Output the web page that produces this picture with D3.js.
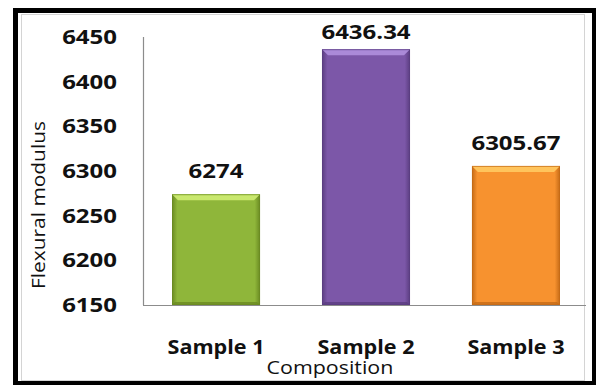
<!DOCTYPE html>
<html>
<head>
<meta charset="utf-8">
<script src="https://cdn.jsdelivr.net/npm/d3@7"></script>
<style>
  html, body { margin: 0; padding: 0; background: #fff; }
  svg { display: block; }
</style>
</head>
<body>
<svg id="chart" width="596" height="385"></svg>
<script>
// Flexural modulus per sample composition
const categories = ["Sample 1", "Sample 2", "Sample 3"];
const values = [6274, 6436.34, 6305.67];
const valueLabels = ["6274", "6436.34", "6305.67"];
const yTicks = [6150, 6200, 6250, 6300, 6350, 6400, 6450];

// fill palette per bar: body, light bevel, dark edge
const bodyColors = ["#8fb63a", "#7c57a8", "#f7922f"];
const lightColors = ["#c9e86e", "#ab8ad8", "#ffc45c"];
const edgeColors = ["#6a8a22", "#5a3d80", "#c46a16"];

const svg = d3.select("#chart");

const x = d3.scaleBand()
  .domain(categories)
  .range([141, 591])
  .paddingInner(0.413)
  .paddingOuter(0.2067);

const y = d3.scaleLinear()
  .domain([6150, 6450])
  .range([305, 37]);

// faint inner chart-area frame
svg.append("rect")
  .attr("x", 21.5).attr("y", 14.5)
  .attr("width", 563).attr("height", 366)
  .attr("fill", "none").attr("stroke", "#d4d4d4").attr("stroke-width", 1);

// outer black frame
const frame = svg.append("g").attr("fill", "#000");
frame.append("rect").attr("x", 13).attr("y", 8).attr("width", 583).attr("height", 5);
frame.append("rect").attr("x", 13).attr("y", 8).attr("width", 5).attr("height", 377);
frame.append("rect").attr("x", 592).attr("y", 8).attr("width", 4).attr("height", 377);
frame.append("rect").attr("x", 13).attr("y", 381).attr("width", 583).attr("height", 4);

// bars with a bevelled look
const defs = svg.append("defs");
const bars = svg.append("g").selectAll("g.bar")
  .data(values)
  .join("g")
  .attr("class", "bar");

bars.each(function(v, i) {
  const g = d3.select(this);
  const x0 = x(categories[i]);
  const bw = x.bandwidth();
  const top = y(v);
  const bottom = y(6150);
  const h = bottom - top;
  const bev = 6;

  const gid = "grad" + i;
  const grad = defs.append("linearGradient")
    .attr("id", gid).attr("x1", 0).attr("x2", 1).attr("y1", 0).attr("y2", 0);
  grad.append("stop").attr("offset", "0%").attr("stop-color", edgeColors[i]);
  grad.append("stop").attr("offset", "6%").attr("stop-color", bodyColors[i]);
  grad.append("stop").attr("offset", "94%").attr("stop-color", bodyColors[i]);
  grad.append("stop").attr("offset", "100%").attr("stop-color", edgeColors[i]);

  g.append("rect")
    .attr("x", x0).attr("y", top)
    .attr("width", bw).attr("height", h)
    .attr("fill", "url(#" + gid + ")");

  // top bevel
  g.append("path")
    .attr("d", `M${x0},${top} L${x0 + bw},${top} L${x0 + bw - bev},${top + bev} L${x0 + bev},${top + bev} Z`)
    .attr("fill", lightColors[i]);
  // bottom edge
  g.append("path")
    .attr("d", `M${x0},${bottom} L${x0 + bw},${bottom} L${x0 + bw - 3},${bottom - 3} L${x0 + 3},${bottom - 3} Z`)
    .attr("fill", edgeColors[i]).attr("opacity", 0.8);
  // outline
  g.append("rect")
    .attr("x", x0 + 0.5).attr("y", top + 0.5)
    .attr("width", bw - 1).attr("height", h - 1)
    .attr("fill", "none").attr("stroke", edgeColors[i]).attr("stroke-opacity", 0.7);
});

// axes lines
const axisColor = "#8c8c8c";
svg.append("line")
  .attr("x1", 143.5).attr("x2", 143.5)
  .attr("y1", y(6450)).attr("y2", y(6150))
  .attr("stroke", axisColor).attr("stroke-width", 1.2);
svg.append("line")
  .attr("x1", 143).attr("x2", 586)
  .attr("y1", y(6150) + 0.5).attr("y2", y(6150) + 0.5)
  .attr("stroke", axisColor).attr("stroke-width", 1.2);

// y tick labels
const numFont = "'Open Sans', sans-serif";
svg.append("g").selectAll("text")
  .data(yTicks)
  .join("text")
  .attr("transform", d => `translate(117,${y(d) + 7}) scale(1.2,1)`)
  .attr("text-anchor", "end")
  .attr("font-family", numFont)
  .attr("font-weight", 700)
  .attr("font-size", 20)
  .attr("fill", "#111")
  .text(d => d);

// value labels above bars
svg.append("g").selectAll("text")
  .data(values)
  .join("text")
  .attr("transform", (d, i) => {
    const cx = x(categories[i]) + x.bandwidth() / 2;
    const by = Math.max(y(d) - 16, 39);
    return `translate(${cx},${by}) scale(1.2,1)`;
  })
  .attr("text-anchor", "middle")
  .attr("font-family", numFont)
  .attr("font-weight", 700)
  .attr("font-size", 20)
  .attr("fill", "#111")
  .text((d, i) => valueLabels[i]);

// category labels
svg.append("g").selectAll("text")
  .data(categories)
  .join("text")
  .attr("transform", d => `translate(${x(d) + x.bandwidth() / 2},354) scale(1.08,1)`)
  .attr("text-anchor", "middle")
  .attr("font-family", numFont)
  .attr("font-weight", 700)
  .attr("font-size", 20)
  .attr("fill", "#111")
  .text(d => d);

// axis titles
svg.append("text")
  .attr("transform", "translate(330,374) scale(1.19,1)")
  .attr("text-anchor", "middle")
  .attr("font-family", numFont)
  .attr("font-size", 18)
  .attr("fill", "#111")
  .text("Composition");

svg.append("text")
  .attr("transform", "translate(45,205) rotate(-90) scale(1.1,1)")
  .attr("text-anchor", "middle")
  .attr("font-family", numFont)
  .attr("font-size", 19)
  .attr("fill", "#111")
  .text("Flexural modulus");
</script>
</body>
</html>
